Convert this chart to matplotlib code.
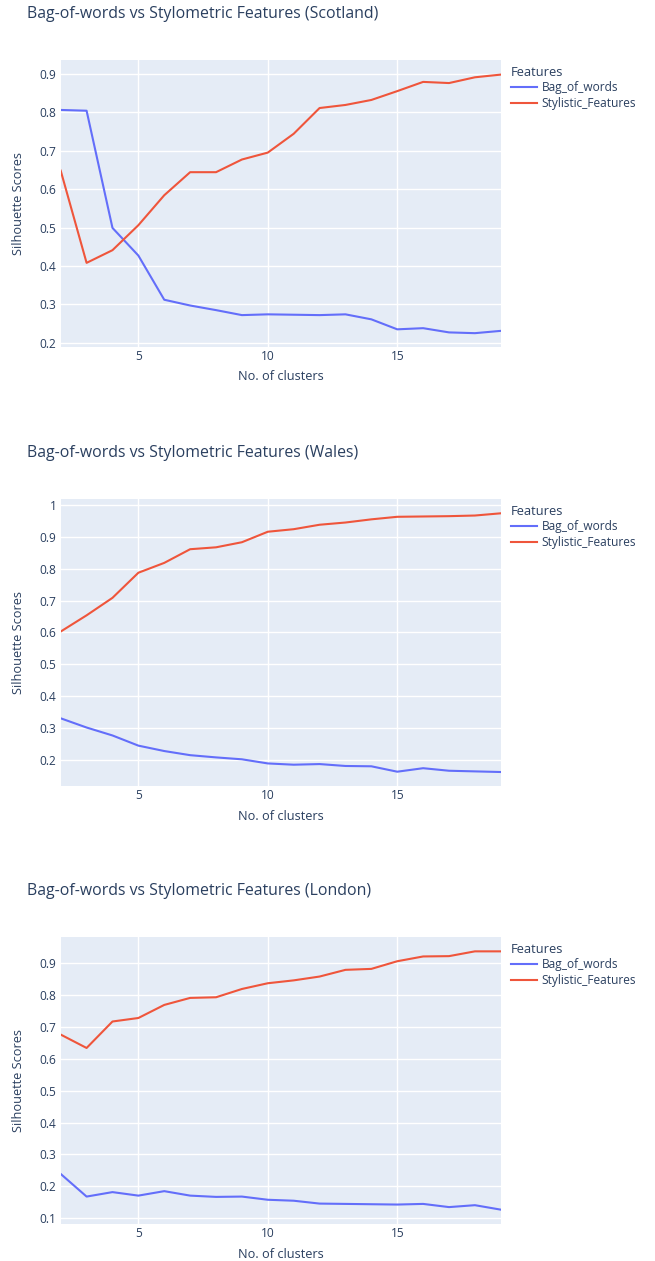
import numpy as np
import matplotlib.pyplot as plt

plt.rcParams['font.family'] = ['Open Sans', 'DejaVu Sans']

clusters = list(range(2, 20))

# Scotland
scot_bow = [0.806, 0.804, 0.499, 0.427, 0.312, 0.297, 0.285, 0.272, 0.274,
            0.273, 0.272, 0.274, 0.261, 0.235, 0.238, 0.227, 0.225, 0.231]
scot_sty = [0.648, 0.408, 0.441, 0.506, 0.584, 0.644, 0.644, 0.677, 0.695,
            0.744, 0.811, 0.819, 0.832, 0.855, 0.879, 0.876, 0.891, 0.898]

# Wales
wales_bow = [0.330, 0.301, 0.276, 0.244, 0.227, 0.214, 0.207, 0.201, 0.188,
             0.184, 0.186, 0.180, 0.179, 0.162, 0.173, 0.165, 0.163, 0.161]
wales_sty = [0.603, 0.654, 0.709, 0.788, 0.819, 0.862, 0.868, 0.884, 0.917,
             0.925, 0.939, 0.946, 0.956, 0.964, 0.965, 0.966, 0.968, 0.975]

# London
lon_bow = [0.239, 0.168, 0.182, 0.171, 0.185, 0.171, 0.167, 0.168, 0.158,
           0.155, 0.146, 0.145, 0.144, 0.143, 0.145, 0.135, 0.141, 0.127]
lon_sty = [0.676, 0.634, 0.717, 0.728, 0.769, 0.791, 0.793, 0.819, 0.837,
           0.846, 0.858, 0.879, 0.882, 0.906, 0.921, 0.922, 0.937, 0.937]

regions = ['Scotland', 'Wales', 'London']
bow_series = [scot_bow, wales_bow, lon_bow]
sty_series = [scot_sty, wales_sty, lon_sty]
yticks = [np.arange(0.2, 0.91, 0.1), np.arange(0.2, 1.01, 0.1), np.arange(0.1, 0.91, 0.1)]
ylims = [(0.189, 0.936), (0.117, 1.02), (0.082, 0.982)]

BG = '#E5ECF6'
TXT = '#2a3f5f'
BLUE = '#636EFA'
RED = '#EF553B'

W, H = 655, 1261
fig = plt.figure(figsize=(W / 100, H / 100), dpi=100)

left_px, right_px = 60.7, 500.8
plot_tops = [60, 499, 937]
plot_h = 287

for i, region in enumerate(regions):
    top = plot_tops[i]
    ax = fig.add_axes([left_px / W, 1 - (top + plot_h) / H,
                       (right_px - left_px) / W, plot_h / H])
    ax.set_facecolor(BG)
    for s in ax.spines.values():
        s.set_visible(False)

    ax.plot(clusters, bow_series[i], color=BLUE, lw=1.5, label='Bag_of_words')
    ax.plot(clusters, sty_series[i], color=RED, lw=1.5, label='Stylistic_Features')

    ax.set_xlim(2, 19)
    ax.set_ylim(*ylims[i])
    ax.set_xticks([5, 10, 15])
    ax.set_yticks(yticks[i])
    ax.set_yticklabels(['%g' % round(v, 1) for v in yticks[i]])
    ax.grid(True, color='white', lw=1)
    ax.set_axisbelow(True)
    ax.tick_params(length=0, colors=TXT, labelsize=8.6, pad=3)
    ax.tick_params(axis='x', pad=2)

    ax.set_xlabel('No. of clusters', color=TXT, fontsize=9.2)
    ax.xaxis.set_label_coords(0.5, -30 / plot_h)
    ax.xaxis.label.set_va('center')
    ax.set_ylabel('Silhouette Scores', color=TXT, fontsize=9.2)
    ax.yaxis.set_label_coords((18.4 - left_px) / (right_px - left_px), 0.5)
    ax.yaxis.label.set_va('center')

    fig.text(27 / W, 1 - (top - 46) / H,
             'Bag-of-words vs Stylometric Features (%s)' % region,
             color=TXT, fontsize=11.4, va='center', ha='left')

    leg = ax.legend(title='Features', loc='upper left',
                    bbox_to_anchor=((506 - left_px) / (right_px - left_px), 1 - 1 / plot_h),
                    frameon=False, fontsize=8.6, title_fontsize=9.3,
                    handlelength=2.2, handletextpad=0.4, labelspacing=0.22,
                    borderaxespad=0)
    leg._legend_box.align = 'left'
    leg.get_title().set_color(TXT)
    for t in leg.get_texts():
        t.set_color(TXT)

fig.savefig('out.png', dpi=100)
